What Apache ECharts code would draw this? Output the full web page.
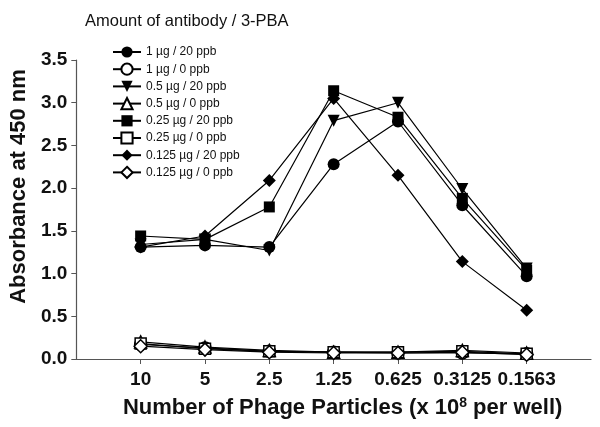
<!DOCTYPE html>
<html><head><meta charset="utf-8">
<script src="https://cdn.jsdelivr.net/npm/echarts@6/dist/echarts.min.js"></script>
<style>html,body{margin:0;padding:0;background:#fff}#c{width:600px;height:427px}</style>
</head><body><div id="c"></div>
<script>
const categories = ['10', '5', '2.5', '1.25', '0.625', '0.3125', '0.1563'];
const yTicks = [0, 0.5, 1.0, 1.5, 2.0, 2.5, 3.0, 3.5];
const names = ['1 µg / 20 ppb', '1 µg / 0 ppb', '0.5 µg / 20 ppb', '0.5 µg / 0 ppb',
  '0.25 µg / 20 ppb', '0.25 µg / 0 ppb', '0.125 µg / 20 ppb', '0.125 µg / 0 ppb'];
const s1ug20 = [1.31, 1.33, 1.31, 2.28, 2.78, 1.80, 0.97];
const s1ug0 = [0.17, 0.13, 0.09, 0.08, 0.07, 0.07, 0.06];
const s05ug20 = [1.34, 1.40, 1.27, 2.79, 3.00, 1.99, 1.06];
const s05ug0 = [0.20, 0.14, 0.10, 0.08, 0.08, 0.10, 0.07];
const s025ug20 = [1.44, 1.40, 1.78, 3.14, 2.83, 1.88, 1.04];
const s025ug0 = [0.18, 0.12, 0.09, 0.08, 0.08, 0.09, 0.06];
const s0125ug20 = [1.31, 1.44, 2.09, 3.05, 2.15, 1.14, 0.57];
const s0125ug0 = [0.15, 0.11, 0.08, 0.07, 0.07, 0.08, 0.05];

const seriesData = [s1ug20, s1ug0, s05ug20, s05ug0, s025ug20, s025ug0, s0125ug20, s0125ug0];
const symbols = ['circle', 'circle', 'triangle', 'triangle', 'rect', 'rect', 'diamond', 'diamond'];
const rotates = [0, 0, 180, 0, 0, 0, 0, 0];
const sizes = [12, 12, 12, 12, 11, 11, 13, 13];
const filled = [true, false, true, false, true, false, true, false];
const FONT = 'Liberation Sans, Arial, sans-serif';

const chart = echarts.init(document.getElementById('c'), null, {renderer: 'canvas'});
const series = seriesData.map((d, i) => ({
  name: names[i],
  type: 'line',
  data: d.map((v, j) => [j, v]),
  symbol: symbols[i],
  symbolRotate: rotates[i],
  symbolSize: sizes[i],
  lineStyle: {color: '#000', width: 1.2},
  itemStyle: {color: filled[i] ? '#000' : '#fff', borderColor: '#000', borderWidth: filled[i] ? 0 : 1.5},
  z: filled[i] ? 3 : 2,
  animation: false
}));
chart.setOption({
  backgroundColor: '#fff',
  animation: false,
  title: {text: 'Amount of antibody / 3-PBA', left: 80, top: 8,
    textStyle: {fontFamily: FONT, fontSize: 16.5, fontWeight: 'normal', color: '#111'}},
  legend: {
    orient: 'vertical', left: 107, top: 41,
    itemWidth: 28, itemHeight: 14, itemGap: 4.6,
    textStyle: {fontFamily: FONT, fontSize: 12, color: '#111'},
    data: names
  },
  grid: {left: 71, right: 9, top: 60, bottom: 68, containLabel: false},
  xAxis: {
    type: 'value', min: -1, max: 7, interval: 1,
    splitLine: {show: false},
    axisLine: {onZero: false, lineStyle: {color: '#555', width: 1.2}},
    axisTick: {customValues: [0, 1, 2, 3, 4, 5, 6], length: 5, lineStyle: {color: '#555'}},
    axisLabel: {customValues: [0, 1, 2, 3, 4, 5, 6], formatter: v => categories[v] || '',
      fontFamily: FONT, fontSize: 19, fontWeight: 'bold', color: '#111', margin: 11},
    name: 'Number of Phage Particles (x 10{sup|8} per well)',
    nameLocation: 'middle', nameGap: 37,
    nameTextStyle: {fontFamily: FONT, fontSize: 22, fontWeight: 'bold', color: '#111',
      padding: [0, 0, 0, 18],
      rich: {sup: {fontFamily: FONT, fontSize: 14, fontWeight: 'bold', color: '#111', verticalAlign: 'top', padding: [0, 0, 10, 0]}}}
  },
  yAxis: {
    type: 'value', min: 0, max: 3.5, interval: 0.5,
    splitLine: {show: false},
    axisLine: {show: true, onZero: false, lineStyle: {color: '#555', width: 1.2}},
    axisTick: {show: true, length: 5, lineStyle: {color: '#555'}},
    axisLabel: {formatter: v => yTicks.includes(v) ? v.toFixed(1) : '',
      fontFamily: FONT, fontSize: 19, fontWeight: 'bold', color: '#111', margin: 9},
    name: 'Absorbance at 450 nm', nameLocation: 'middle', nameGap: 43,
    nameTextStyle: {fontFamily: FONT, fontSize: 22, fontWeight: 'bold', color: '#111',
      padding: [0, 0, 0, 46]}
  },
  series: series
});
</script></body></html>
